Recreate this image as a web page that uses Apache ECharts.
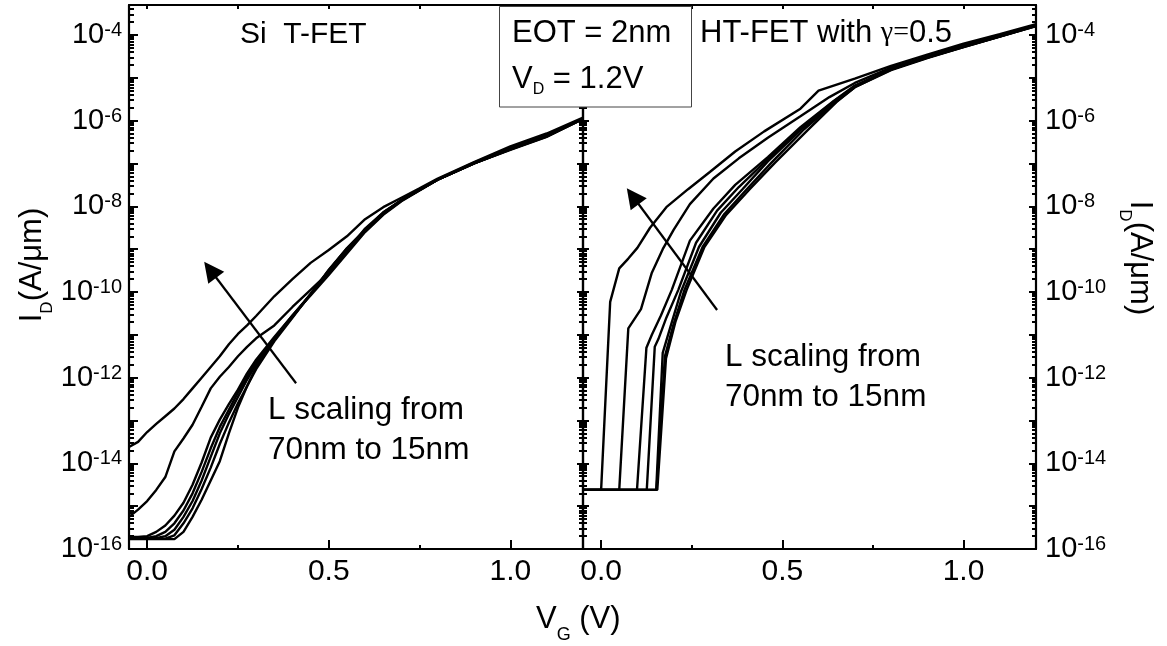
<!DOCTYPE html>
<html><head><meta charset="utf-8">
<script src="https://cdn.jsdelivr.net/npm/echarts@6/dist/echarts.min.js"></script>
<style>html,body{margin:0;padding:0;background:#fff}#c{width:1167px;height:646px}</style>
</head><body><div id="c"></div>
<script>
// ---------- DATA ----------
// x: gate voltage V_G (V); y: log10 of drain current I_D (A/um)
// Si T-FET panel: shared V_G grid, 7 curves (L scaling from 70nm ... 15nm; curve 1 = shortest L)
const siVg = [-0.05,-0.025,0,0.025,0.05,0.075,0.1,0.125,0.15,0.175,0.2,0.225,0.25,0.275,0.3,0.35,0.4,0.45,0.5,0.55,0.6,0.65,0.7,0.75,0.8,0.9,1.0,1.1,1.2];
const siLogId1 = [-13.62,-13.50,-13.27,-13.08,-12.90,-12.72,-12.50,-12.25,-12.00,-11.75,-11.50,-11.22,-10.98,-10.78,-10.56,-10.10,-9.70,-9.32,-9.02,-8.70,-8.30,-8.02,-7.80,-7.58,-7.35,-6.97,-6.60,-6.30,-5.93];
const siLogId2 = [-15.25,-15.08,-14.88,-14.62,-14.32,-13.72,-13.42,-13.10,-12.68,-12.25,-11.98,-11.75,-11.50,-11.28,-11.08,-10.78,-10.35,-9.95,-9.55,-9.05,-8.52,-8.14,-7.86,-7.60,-7.37,-6.98,-6.63,-6.32,-5.95];
const siLogId3 = [-15.72,-15.72,-15.70,-15.60,-15.45,-15.22,-14.92,-14.50,-13.98,-13.40,-12.98,-12.62,-12.28,-11.90,-11.58,-11.05,-10.55,-10.08,-9.60,-9.10,-8.60,-8.20,-7.88,-7.63,-7.38,-7.00,-6.66,-6.34,-5.96];
const siLogId4 = [-15.74,-15.74,-15.74,-15.70,-15.60,-15.40,-15.10,-14.70,-14.20,-13.65,-13.15,-12.75,-12.35,-11.98,-11.62,-11.08,-10.55,-10.05,-9.55,-9.05,-8.58,-8.18,-7.87,-7.62,-7.37,-6.99,-6.65,-6.35,-5.95];
const siLogId5 = [-15.75,-15.75,-15.75,-15.75,-15.70,-15.55,-15.25,-14.88,-14.40,-13.85,-13.30,-12.85,-12.45,-12.05,-11.68,-11.10,-10.58,-10.05,-9.50,-9.00,-8.56,-8.16,-7.86,-7.62,-7.38,-7.00,-6.67,-6.36,-5.96];
const siLogId6 = [-15.76,-15.76,-15.76,-15.76,-15.76,-15.68,-15.40,-15.05,-14.60,-14.10,-13.55,-13.05,-12.60,-12.20,-11.75,-11.12,-10.58,-10.05,-9.50,-8.98,-8.55,-8.15,-7.86,-7.62,-7.38,-7.00,-6.67,-6.37,-5.96];
const siLogId7 = [-15.77,-15.77,-15.77,-15.77,-15.77,-15.77,-15.60,-15.25,-14.85,-14.40,-13.95,-13.30,-12.70,-12.20,-11.80,-11.15,-10.60,-10.05,-9.48,-8.98,-8.55,-8.15,-7.86,-7.62,-7.38,-7.00,-6.68,-6.38,-5.96];

// HT-FET (gamma = 0.5) panel: [V_G, log10 I_D] pairs, curve 1 = shortest L
const htCurve1 = [[-0.05,-14.62],[0.0,-14.62],[0.025,-10.23],[0.05,-9.45],[0.075,-9.22],[0.1,-8.97],[0.135,-8.5],[0.18,-8.02],[0.24,-7.6],[0.3,-7.2],[0.37,-6.72],[0.45,-6.25],[0.55,-5.72],[0.6,-5.3],[0.7,-5.02],[0.8,-4.72],[0.9,-4.46],[1.0,-4.2],[1.1,-3.98],[1.2,-3.75]];
const htCurve2 = [[-0.05,-14.62],[0.05,-14.62],[0.075,-10.85],[0.11,-10.4],[0.14,-9.55],[0.17,-9.0],[0.2,-8.55],[0.245,-7.95],[0.31,-7.35],[0.38,-6.88],[0.46,-6.4],[0.55,-5.9],[0.63,-5.45],[0.7,-5.12],[0.8,-4.76],[0.9,-4.5],[1.0,-4.24],[1.1,-4.0],[1.2,-3.77]];
const htCurve3 = [[-0.05,-14.62],[0.099,-14.62],[0.125,-11.3],[0.14,-11.0],[0.165,-10.55],[0.195,-9.95],[0.245,-8.8],[0.31,-8.05],[0.37,-7.5],[0.46,-6.85],[0.55,-6.15],[0.64,-5.55],[0.7,-5.18],[0.8,-4.8],[0.9,-4.52],[1.0,-4.26],[1.1,-4.02],[1.2,-3.78]];
const htCurve4 = [[-0.05,-14.62],[0.126,-14.62],[0.148,-11.28],[0.158,-11.1],[0.18,-10.6],[0.213,-9.95],[0.262,-8.85],[0.32,-8.1],[0.38,-7.55],[0.46,-6.9],[0.55,-6.18],[0.64,-5.56],[0.7,-5.2],[0.8,-4.8],[0.9,-4.52],[1.0,-4.27],[1.1,-4.03],[1.2,-3.78]];
const htCurve5 = [[-0.05,-14.62],[0.152,-14.62],[0.17,-11.42],[0.19,-10.85],[0.22,-10.0],[0.27,-8.95],[0.33,-8.15],[0.39,-7.6],[0.46,-6.95],[0.55,-6.22],[0.64,-5.58],[0.7,-5.2],[0.8,-4.8],[0.9,-4.53],[1.0,-4.27],[1.1,-4.03],[1.2,-3.78]];
const htCurve6 = [[-0.05,-14.62],[0.153,-14.62],[0.176,-11.5],[0.2,-10.75],[0.23,-9.95],[0.28,-8.95],[0.34,-8.18],[0.4,-7.62],[0.47,-6.98],[0.56,-6.2],[0.65,-5.55],[0.7,-5.22],[0.8,-4.81],[0.9,-4.53],[1.0,-4.28],[1.1,-4.04],[1.2,-3.79]];
const htCurve7 = [[-0.05,-14.62],[0.155,-14.62],[0.179,-11.55],[0.205,-10.7],[0.236,-9.95],[0.285,-8.95],[0.345,-8.2],[0.41,-7.6],[0.48,-6.98],[0.57,-6.22],[0.65,-5.56],[0.7,-5.22],[0.8,-4.82],[0.9,-4.54],[1.0,-4.28],[1.1,-4.04],[1.2,-3.79]];

// Axis ticks and labels
const vgRange = [-0.05, 1.2];
const vgMajorTicks = [0, 0.5, 1.0];
const vgMinorTicks = [0.25, 0.75];
const logIdRange = [-16, -3.3];
const logIdDecadeTicks = [-16,-15,-14,-13,-12,-11,-10,-9,-8,-7,-6,-5,-4];
const logIdLabels = [-16,-14,-12,-10,-8,-6,-4];

// Annotation arrows (data coordinates: [V_G, log10 I_D], tail -> head)
const siArrow = [[0.41, -12.13], [0.1736, -9.48]];
const htArrow = [[0.32, -10.42], [0.0873, -7.765]];

// ---------- CHART ----------
const FONT = '"Liberation Sans", Arial, sans-serif';
const SERIF = '"Liberation Serif", "DejaVu Serif", serif';
const logIdMinorTicks = [];
logIdDecadeTicks.forEach(n => {
  for (let k = 2; k <= 9; k++) {
    const v = n + Math.log10(k);
    if (v <= logIdRange[1] + 1e-9) logIdMinorTicks.push(+v.toFixed(5));
  }
});

const blk = '#000';
const lineSty = {color: blk, width: 2.2};

function xAx(grid, position, ticks, len, extra) {
  return Object.assign({
    type: 'value', gridIndex: grid, position: position,
    min: vgRange[0], max: vgRange[1],
    axisLine: {show: true, onZero: false, lineStyle: lineSty},
    axisTick: {show: true, inside: true, length: len, customValues: ticks, lineStyle: {color: blk, width: 2}},
    axisLabel: {show: false},
    splitLine: {show: false}
  }, extra || {});
}
function yAx(grid, position, ticks, len, extra) {
  return Object.assign({
    type: 'value', gridIndex: grid, position: position,
    min: logIdRange[0], max: logIdRange[1],
    axisLine: {show: true, onZero: false, lineStyle: lineSty},
    axisTick: {show: true, inside: true, length: len, customValues: ticks, lineStyle: {color: blk, width: 2}},
    axisLabel: {show: false},
    splitLine: {show: false}
  }, extra || {});
}
const noLine = {axisLine: {show: false, onZero: false}};

const xLabel = {
  show: true, customValues: vgMajorTicks, formatter: v => v.toFixed(1),
  fontSize: 30, fontFamily: FONT, color: blk, margin: 8
};
const yRich = {
  b: {fontSize: 29, lineHeight: 29, padding: [3, 0, 0, 0], verticalAlign: 'bottom', fontFamily: FONT, color: blk},
  s: {fontSize: 20, lineHeight: 20, verticalAlign: 'top', fontFamily: FONT, color: blk}
};
const yFmt = v => '{b|10}{s|' + Math.round(v) + '}';
const nameRich = {
  a: {fontSize: 31, lineHeight: 31, verticalAlign: 'top', fontFamily: FONT, color: blk},
  d: {fontSize: 17, lineHeight: 17, padding: [22, 0, 0, 0], verticalAlign: 'top', fontFamily: FONT, color: blk}
};
const yName = '{a|I}{d|D}{a|(A/μm)}';

const option = {
  animation: false,
  backgroundColor: '#fff',
  grid: [
    {left: 129, top: 5, width: 454, height: 544},
    {left: 583, top: 5, width: 453, height: 544}
  ],
  xAxis: [
    xAx(0, 'bottom', vgMajorTicks, 9, {axisLabel: xLabel}),
    xAx(0, 'bottom', vgMinorTicks, 4, noLine),
    xAx(0, 'top', vgMajorTicks.concat(vgMinorTicks), 4),
    xAx(1, 'bottom', vgMajorTicks, 9, {axisLabel: xLabel}),
    xAx(1, 'bottom', vgMinorTicks, 4, noLine),
    xAx(1, 'top', vgMajorTicks.concat(vgMinorTicks), 4)
  ],
  yAxis: [
    yAx(0, 'left', logIdDecadeTicks, 9, {
      axisLabel: {show: true, customValues: logIdLabels, formatter: yFmt, rich: yRich, margin: 7},
      name: yName, nameLocation: 'middle', nameRotate: 90, nameGap: 81,
      nameTextStyle: {rich: nameRich, padding: [0, 0, 0, 24]}
    }),
    yAx(0, 'left', logIdMinorTicks, 5, noLine),
    yAx(0, 'right', logIdDecadeTicks, 6),
    yAx(0, 'right', logIdMinorTicks, 4, noLine),
    yAx(1, 'left', logIdDecadeTicks, 6),
    yAx(1, 'left', logIdMinorTicks, 4, noLine),
    yAx(1, 'right', logIdDecadeTicks, 7, {
      axisLabel: {show: true, customValues: logIdLabels, formatter: yFmt, rich: yRich, margin: 9},
      name: yName, nameLocation: 'middle', nameRotate: -90, nameGap: 88,
      nameTextStyle: {rich: nameRich, padding: [0, 38, 0, 0]}
    }),
    yAx(1, 'right', logIdMinorTicks, 4, noLine)
  ],
  series: []
};

const arrowMark = (arr) => ({
  silent: true, symbol: ['none', 'triangle'], symbolSize: 20,
  label: {show: false}, lineStyle: {color: blk, width: 2.2, type: 'solid'},
  itemStyle: {color: blk},
  data: [[{coord: arr[0]}, {coord: arr[1]}]]
});

[siLogId1, siLogId2, siLogId3, siLogId4, siLogId5, siLogId6, siLogId7].forEach((c, i) => {
  const s = {
    type: 'line', xAxisIndex: 0, yAxisIndex: 0, showSymbol: false, silent: true,
    lineStyle: {color: blk, width: 2.4}, z: 3,
    data: siVg.map((v, j) => [v, c[j]])
  };
  if (i === 0) s.markLine = arrowMark(siArrow);
  option.series.push(s);
});
[htCurve1, htCurve2, htCurve3, htCurve4, htCurve5, htCurve6, htCurve7].forEach((c, i) => {
  const s = {
    type: 'line', xAxisIndex: 3, yAxisIndex: 4, showSymbol: false, silent: true,
    lineStyle: {color: blk, width: 2.4}, z: 3,
    data: c
  };
  if (i === 0) s.markLine = arrowMark(htArrow);
  option.series.push(s);
});

const txt = (text, x, y, size, va, extra) => ({
  type: 'text', z: 110, silent: true,
  style: Object.assign({text: text, x: x, y: y, fill: blk, fontSize: size, fontFamily: FONT, align: 'left', verticalAlign: va}, extra || {})
});

option.graphic = [
  {type: 'rect', z: 100, silent: true, shape: {x: 499.5, y: 6.5, width: 192, height: 100.5},
   style: {fill: '#fff', stroke: '#444', lineWidth: 1}},
  txt('Si  T-FET', 240, 35, 30, 'middle'),
  txt('EOT = 2nm', 512, 33, 31, 'middle'),
  txt('{a|V}{d|D}{a| = 1.2V}', 512, 64, 31, 'top', {rich: {
    a: {fontSize: 31, lineHeight: 31, verticalAlign: 'top', fontFamily: FONT, fill: blk},
    d: {fontSize: 16, lineHeight: 16, padding: [18, 0, 0, 0], verticalAlign: 'top', fontFamily: FONT, fill: blk}
  }}),
  txt('{n|HT-FET with }{g|γ=}{n|0.5}', 700, 33, 31, 'middle', {rich: {
    n: {fontSize: 31, fontFamily: FONT, fill: blk},
    g: {fontSize: 28, fontFamily: SERIF, fill: blk}
  }}),
  txt('L scaling from\n70nm to 15nm', 268, 390, 31.5, 'top', {lineHeight: 40}),
  txt('L scaling from\n70nm to 15nm', 725, 337, 31.5, 'top', {lineHeight: 40}),
  txt('{a|V}{d|G}{a| (V)}', 536, 604, 31, 'top', {rich: {
    a: {fontSize: 31, lineHeight: 31, verticalAlign: 'top', fontFamily: FONT, fill: blk},
    d: {fontSize: 18, lineHeight: 18, padding: [22, 0, 0, 0], verticalAlign: 'top', fontFamily: FONT, fill: blk}
  }})
];

const chart = echarts.init(document.getElementById('c'), null, {renderer: 'canvas'});
chart.setOption(option);
</script></body></html>
